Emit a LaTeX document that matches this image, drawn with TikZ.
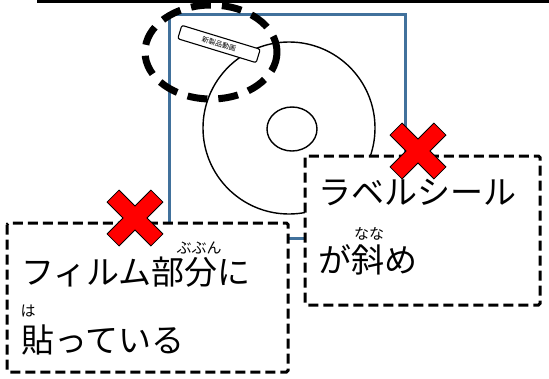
\documentclass[tikz,border=0pt]{standalone}
\usepackage{fontspec}
\newfontfamily\jp{Noto Sans CJK JP}
\definecolor{sqblue}{RGB}{65,113,156}
\definecolor{xred}{RGB}{255,0,0}
\tikzset{
  notebox/.style={draw=black, line width=3pt, dash pattern=on 10pt off 5pt, fill=white, rounded corners=1.5pt},
  bigtext/.style={inner sep=0pt, anchor=west, font=\jp\fontsize{33}{33}\selectfont},
  rubytext/.style={inner sep=0pt, font=\jp\fontsize{15}{15}\selectfont},
  crossshape/.style={fill=xred, draw=black, line width=0.8pt, line join=miter},
}
\newcommand\drawcross[2]{%
  \begin{scope}[shift={(#1,#2)}, rotate=45]
    \filldraw[crossshape] (-8.5,31) -- (8.5,31) -- (8.5,8.5) -- (31,8.5) -- (31,-8.5) -- (8.5,-8.5) -- (8.5,-31) -- (-8.5,-31) -- (-8.5,-8.5) -- (-31,-8.5) -- (-31,8.5) -- (-8.5,8.5) -- cycle;
  \end{scope}}
\begin{document}
\begin{tikzpicture}[x=1pt, y=-1pt]
\useasboundingbox (0,0) rectangle (549,378);
\fill[white] (0,0) rectangle (549,378);
% blue square
\draw[sqblue, line width=3pt] (169,14) rectangle (405,238);
% disc
\draw[black, line width=1.4pt, fill=white] (289,128) circle [radius=86];
\draw[black, line width=1.4pt] (292,129) ellipse [x radius=25, y radius=22];
% sticker
\node[draw, line width=1.1pt, rounded corners=2pt, fill=white, rotate=-17,
      minimum width=82pt, minimum height=14pt, inner sep=0pt,
      font=\jp\fontsize{7}{7}\selectfont] (sticker) at (219,44) {新製品動画};
% dashed ellipse
\draw[black, line width=7pt, dash pattern=on 20pt off 11pt] (211,52) ellipse [x radius=66, y radius=47];
% top line
\draw[black, line width=3pt] (37,1) -- (549,1);
% boxes
\draw[notebox] (7,223) rectangle (288,372);
\draw[notebox] (305,156) rectangle (540,305);
% left box text
\node[bigtext] (l1) at (21,272) {フィルム部分に};
\node[rubytext] (r1) at (199,248) {ぶぶん};
\node[rubytext] (r2) at (28,311) {は};
\node[bigtext] (l2) at (21,340) {貼っている};
% right box text
\node[bigtext] (t1) at (318,192.5) {ラベルシール};
\node[rubytext] (r3) at (369,233.5) {なな};
\node[bigtext] (t2) at (318,260) {が斜め};
% crosses
\drawcross{135}{218}
\drawcross{418}{151}
\end{tikzpicture}
\end{document}
